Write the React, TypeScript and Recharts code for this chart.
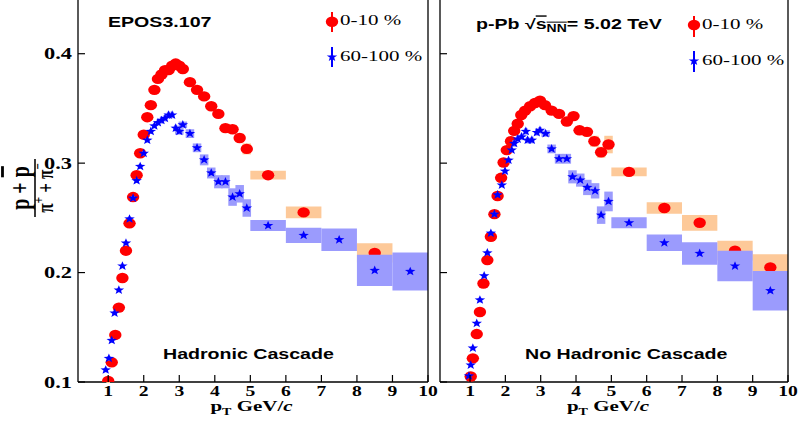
import React from 'react';
import { ScatterChart, Scatter, XAxis, YAxis, ReferenceArea, ReferenceLine } from 'recharts';

const xTicks = [1, 2, 3, 4, 5, 6, 7, 8, 9, 10];
const yTicks = [0.1, 0.2, 0.3, 0.4];

// Left panel: Hadronic Cascade, 0-10 %
const hcCentralX = [1.0, 1.1, 1.2, 1.3, 1.4, 1.5, 1.6, 1.7, 1.8, 1.9, 2.0, 2.1, 2.2, 2.3, 2.4, 2.5, 2.6, 2.7, 2.8, 2.9, 3.0, 3.1, 3.3, 3.5, 3.7, 3.9, 4.1, 4.3, 4.5, 4.7, 4.9, 5.5, 6.5, 8.5];
const hcCentralY = [0.101, 0.118, 0.143, 0.168, 0.195, 0.220, 0.245, 0.269, 0.289, 0.309, 0.326, 0.342, 0.353, 0.367, 0.377, 0.381, 0.385, 0.385, 0.389, 0.391, 0.389, 0.386, 0.374, 0.367, 0.361, 0.352, 0.345, 0.332, 0.331, 0.323, 0.313, 0.289, 0.255, 0.218];
const hcCentralSys = [0.002, 0.002, 0.002, 0.002, 0.002, 0.002, 0.002, 0.002, 0.002, 0.002, 0.002, 0.002, 0.002, 0.002, 0.002, 0.002, 0.002, 0.002, 0.002, 0.002, 0.002, 0.002, 0.003, 0.003, 0.003, 0.003, 0.003, 0.004, 0.004, 0.004, 0.005, 0.004, 0.0053, 0.0087];

// Left panel: Hadronic Cascade, 60-100 %
const hcPeriphX = [0.93, 1.02, 1.1, 1.18, 1.3, 1.4, 1.5, 1.6, 1.7, 1.8, 1.9, 2.0, 2.1, 2.2, 2.3, 2.4, 2.5, 2.6, 2.7, 2.8, 2.9, 3.0, 3.1, 3.3, 3.5, 3.7, 3.9, 4.1, 4.3, 4.5, 4.7, 4.9, 5.5, 6.5, 7.5, 8.5, 9.5];
const hcPeriphY = [0.111, 0.1216, 0.138, 0.163, 0.184, 0.206, 0.227, 0.249, 0.268, 0.284, 0.297, 0.309, 0.321, 0.329, 0.334, 0.337, 0.339, 0.341, 0.344, 0.344, 0.332, 0.329, 0.335, 0.327, 0.314, 0.303, 0.291, 0.283, 0.283, 0.269, 0.272, 0.259, 0.243, 0.234, 0.230, 0.202, 0.201];
const hcPeriphSys = [0.002, 0.002, 0.002, 0.002, 0.002, 0.002, 0.002, 0.002, 0.002, 0.002, 0.002, 0.002, 0.002, 0.002, 0.002, 0.002, 0.003, 0.003, 0.003, 0.003, 0.003, 0.003, 0.003, 0.004, 0.004, 0.005, 0.005, 0.006, 0.006, 0.008, 0.008, 0.008, 0.005, 0.007, 0.0103, 0.0143, 0.0173];

// Right panel: No Hadronic Cascade, 0-10 %
const nhcCentralX = [1.02, 1.08, 1.19, 1.28, 1.38, 1.49, 1.59, 1.69, 1.78, 1.88, 1.95, 2.04, 2.16, 2.25, 2.35, 2.45, 2.56, 2.7, 2.84, 2.98, 3.12, 3.31, 3.52, 3.74, 3.93, 4.1, 4.31, 4.52, 4.71, 4.92, 5.5, 6.5, 7.5, 8.5, 9.5];
const nhcCentralY = [0.105, 0.1216, 0.1438, 0.164, 0.190, 0.2114, 0.2327, 0.2534, 0.270, 0.2866, 0.3006, 0.3119, 0.320, 0.3295, 0.336, 0.344, 0.348, 0.352, 0.355, 0.357, 0.353, 0.348, 0.345, 0.338, 0.343, 0.330, 0.3286, 0.320, 0.310, 0.317, 0.292, 0.259, 0.2455, 0.220, 0.2047];
const nhcCentralSys = [0.002, 0.002, 0.002, 0.002, 0.002, 0.002, 0.002, 0.002, 0.002, 0.002, 0.002, 0.002, 0.002, 0.002, 0.002, 0.002, 0.002, 0.002, 0.002, 0.002, 0.002, 0.003, 0.003, 0.003, 0.004, 0.004, 0.004, 0.005, 0.005, 0.008, 0.004, 0.0053, 0.0072, 0.009, 0.012];

// Right panel: No Hadronic Cascade, 60-100 %
const nhcPeriphX = [0.97, 1.02, 1.08, 1.19, 1.28, 1.4, 1.49, 1.59, 1.69, 1.78, 1.9, 1.99, 2.09, 2.18, 2.25, 2.35, 2.46, 2.58, 2.63, 2.75, 2.89, 2.98, 3.14, 3.31, 3.52, 3.74, 3.9, 4.12, 4.32, 4.54, 4.71, 4.92, 5.5, 6.5, 7.5, 8.5, 9.5];
const nhcPeriphY = [0.1055, 0.1155, 0.131, 0.1536, 0.175, 0.197, 0.218, 0.236, 0.2534, 0.271, 0.280, 0.2927, 0.3027, 0.312, 0.318, 0.322, 0.324, 0.329, 0.321, 0.321, 0.328, 0.330, 0.327, 0.313, 0.304, 0.304, 0.2875, 0.2845, 0.2778, 0.2747, 0.2525, 0.265, 0.2455, 0.2272, 0.2175, 0.206, 0.1834];
const nhcPeriphSys = [0.002, 0.002, 0.002, 0.002, 0.002, 0.002, 0.002, 0.002, 0.002, 0.002, 0.002, 0.002, 0.002, 0.002, 0.003, 0.003, 0.003, 0.003, 0.003, 0.003, 0.003, 0.003, 0.003, 0.004, 0.0045, 0.0045, 0.006, 0.006, 0.007, 0.007, 0.008, 0.009, 0.005, 0.0075, 0.0103, 0.014, 0.018];

const RED = '#ff0000';
const BLUE = '#0000ff';
const ORANGE_BOX = '#fdc999';
const BLUE_BOX = '#9b9bfd';
const SERIF = '"Liberation Serif", "Times New Roman", serif';
const SANS = '"Liberation Sans", Arial, sans-serif';
const SX = 1.4;

type Pt = { x: number; y: number; sys: number };
const rows = (xs: number[], ys: number[], sys: number[]): Pt[] =>
  xs.map((x, i) => ({ x, y: ys[i], sys: sys[i] }));
const halfWidth = (x: number) => (x >= 5 ? 0.5 : x >= 3 ? 0.12 : 0.05);

const starPath = (cx: number, cy: number, R = 4.8, r = 2.0, sx = 1.15) => {
  let d = '';
  for (let i = 0; i < 10; i++) {
    const a = -Math.PI / 2 + (i * Math.PI) / 5;
    const rad = i % 2 === 0 ? R : r;
    const px = cx + Math.cos(a) * rad * sx;
    const py = cy + Math.sin(a) * rad;
    d += (i === 0 ? 'M' : 'L') + px.toFixed(2) + ',' + py.toFixed(2);
  }
  return d + 'Z';
};

const RedMarker = (p: any) => <ellipse cx={p.cx} cy={p.cy} rx={6.2} ry={5.2} fill={RED} />;
const BlueMarker = (p: any) => <path d={starPath(p.cx, p.cy)} fill={BLUE} />;

const XTick = (p: any) => (
  <g>
    <line x1={p.x} x2={p.x} y1={p.y} y2={p.y - 7} stroke="#000" strokeWidth={1.2} />
    <text
      transform={`translate(${p.x},${p.y + 13.5}) scale(${SX},1)`}
      textAnchor="middle"
      fontFamily={SERIF}
      fontWeight="bold"
      fontSize={14}
      fill="#000"
    >
      {p.payload.value}
    </text>
  </g>
);

const YTickLabeled = (p: any) => (
  <g>
    <line x1={p.x} x2={p.x + 7} y1={p.y} y2={p.y} stroke="#000" strokeWidth={1.2} />
    <text
      transform={`translate(${p.x - 6},${p.y + 5.5}) scale(${SX},1)`}
      textAnchor="end"
      fontFamily={SERIF}
      fontWeight="bold"
      fontSize={16}
      fill="#000"
    >
      {Number(p.payload.value).toFixed(1)}
    </text>
  </g>
);

const YTickPlain = (p: any) => (
  <g>
    <line x1={p.x} x2={p.x + 7} y1={p.y} y2={p.y} stroke="#000" strokeWidth={1.2} />
  </g>
);

function Panel(props: {
  left: number;
  width: number;
  yAxisWidth: number;
  marginRight: number;
  central: Pt[];
  periph: Pt[];
  yLabels: boolean;
}) {
  const { left, width, yAxisWidth, marginRight, central, periph, yLabels } = props;
  return (
    <div style={{ position: 'absolute', left, top: -20, width, height: 443 }}>
      <ScatterChart width={width} height={443} margin={{ top: 19, right: marginRight, bottom: 11, left: 0 }}>
        <XAxis
          type="number"
          dataKey="x"
          domain={[0.15, 10]}
          ticks={xTicks}
          interval={0}
          allowDataOverflow
          height={30}
          tickSize={0}
          tickMargin={0}
          tickLine={false}
          axisLine={{ stroke: '#000', strokeWidth: 1.3 }}
          tick={(p: any) => <XTick {...p} />}
        />
        <YAxis
          type="number"
          dataKey="y"
          domain={[0.1, 0.45]}
          ticks={yTicks}
          interval={0}
          allowDataOverflow
          width={yAxisWidth}
          tickSize={0}
          tickMargin={0}
          tickLine={false}
          axisLine={{ stroke: '#000', strokeWidth: 1.3 }}
          tick={(p: any) => (yLabels ? <YTickLabeled {...p} /> : <YTickPlain {...p} />)}
        />
        {central.map((d, i) => (
          <ReferenceArea
            key={'oa' + i}
            x1={d.x - halfWidth(d.x)}
            x2={d.x + halfWidth(d.x)}
            y1={d.y - d.sys}
            y2={d.y + d.sys}
            fill={ORANGE_BOX}
            fillOpacity={1}
            stroke="none"
            ifOverflow="visible"
            zIndex={610}
          />
        ))}
        <Scatter data={central} shape={(p: any) => <RedMarker {...p} />} isAnimationActive={false} zIndex={620} />
        {periph.map((d, i) => (
          <ReferenceArea
            key={'ba' + i}
            x1={d.x - halfWidth(d.x)}
            x2={d.x + halfWidth(d.x)}
            y1={d.y - d.sys}
            y2={d.y + d.sys}
            fill={BLUE_BOX}
            fillOpacity={1}
            stroke="none"
            ifOverflow="visible"
            zIndex={630}
          />
        ))}
        <Scatter data={periph} shape={(p: any) => <BlueMarker {...p} />} isAnimationActive={false} zIndex={640} />
        <ReferenceLine x={10} stroke="#000" strokeWidth={1.3} zIndex={650} />
      </ScatterChart>
    </div>
  );
}

const sText = (x: number, y: number) => `translate(${x},${y}) scale(${SX},1)`;

function Overlay() {
  return (
    <svg
      width={799}
      height={423}
      style={{ position: 'absolute', left: 0, top: 0, pointerEvents: 'none' }}
    >
      {/* y-axis title */}
      <g transform={`translate(35,188) scale(${SX},1) rotate(-90)`}>
        <line x1={-29} x2={29} y1={0} y2={0} stroke="#000" strokeWidth={1.1} />
        <text x={0} y={-4.5} textAnchor="middle" fontFamily={SERIF} fontWeight="bold" fontSize={20} fill="#000">
          p + <tspan style={{ textDecoration: 'overline' }}>p</tspan>
        </text>
        <text x={0} y={12.5} textAnchor="middle" fontFamily={SERIF} fontWeight="bold" fontSize={17} fill="#000">
          π<tspan fontSize={11} dy={-6.5}>+</tspan>
          <tspan dy={6.5}> + π</tspan>
          <tspan fontSize={11} dy={-6.5}>−</tspan>
        </text>
      </g>

      {/* left panel texts */}
      <text transform={sText(108, 26.7)} fontFamily={SANS} fontWeight="bold" fontSize={14} fill="#000">
        EPOS3.107
      </text>
      <text transform={sText(163, 359)} fontFamily={SANS} fontWeight="bold" fontSize={14} fill="#000">
        Hadronic Cascade
      </text>
      <text transform={sText(251.5, 411)} textAnchor="middle" fontFamily={SERIF} fontWeight="bold" fontSize={15} fill="#000">
        p<tspan fontSize={10} dy={4}>T</tspan>
        <tspan dy={-4}> GeV/</tspan>
        <tspan fontStyle="italic">c</tspan>
      </text>

      {/* left legend */}
      <line x1={332} x2={332} y1={12} y2={32} stroke={RED} strokeWidth={2} />
      <ellipse cx={332} cy={21.7} rx={6.2} ry={5.2} fill={RED} />
      <text transform={sText(340, 25)} fontFamily={SERIF} fontSize={15} fill="#000">0-10 %</text>
      <line x1={332} x2={332} y1={47} y2={67} stroke={BLUE} strokeWidth={2} />
      <path d={starPath(332, 57)} fill={BLUE} />
      <text transform={sText(340, 60.7)} fontFamily={SERIF} fontSize={15} fill="#000">60-100 %</text>

      {/* right panel texts */}
      <text transform={sText(476, 28.5)} fontFamily={SANS} fontWeight="bold" fontSize={14} fill="#000">
        p-Pb  √<tspan style={{ textDecoration: 'overline' }}>s<tspan fontSize={10} dy={3}>NN</tspan></tspan>
        <tspan dy={-3}>= 5.02 TeV</tspan>
      </text>
      <text transform={sText(525, 359)} fontFamily={SANS} fontWeight="bold" fontSize={14} fill="#000">
        No Hadronic Cascade
      </text>
      <text transform={sText(608, 411)} textAnchor="middle" fontFamily={SERIF} fontWeight="bold" fontSize={15} fill="#000">
        p<tspan fontSize={10} dy={4}>T</tspan>
        <tspan dy={-4}> GeV/</tspan>
        <tspan fontStyle="italic">c</tspan>
      </text>

      {/* right legend */}
      <line x1={694} x2={694} y1={16} y2={37} stroke={RED} strokeWidth={2} />
      <ellipse cx={694} cy={25} rx={6.2} ry={5.2} fill={RED} />
      <text transform={sText(702, 29.3)} fontFamily={SERIF} fontSize={15} fill="#000">0-10 %</text>
      <line x1={694} x2={694} y1={51} y2={72} stroke={BLUE} strokeWidth={2} />
      <path d={starPath(694, 61)} fill={BLUE} />
      <text transform={sText(702, 65)} fontFamily={SERIF} fontSize={15} fill="#000">60-100 %</text>
    </svg>
  );
}

export default function App() {
  const hcCentral = rows(hcCentralX, hcCentralY, hcCentralSys);
  const hcPeriph = rows(hcPeriphX, hcPeriphY, hcPeriphSys);
  const nhcCentral = rows(nhcCentralX, nhcCentralY, nhcCentralSys);
  const nhcPeriph = rows(nhcPeriphX, nhcPeriphY, nhcPeriphSys);
  return (
    <div style={{ position: 'absolute', left: 0, top: 0, width: 799, height: 423, overflow: 'hidden', background: '#fff' }}>
      <Panel left={0} width={440} yAxisWidth={78} marginRight={12} central={hcCentral} periph={hcPeriph} yLabels={true} />
      <Panel left={430} width={369} yAxisWidth={10} marginRight={11} central={nhcCentral} periph={nhcPeriph} yLabels={false} />
      <Overlay />
    </div>
  );
}
